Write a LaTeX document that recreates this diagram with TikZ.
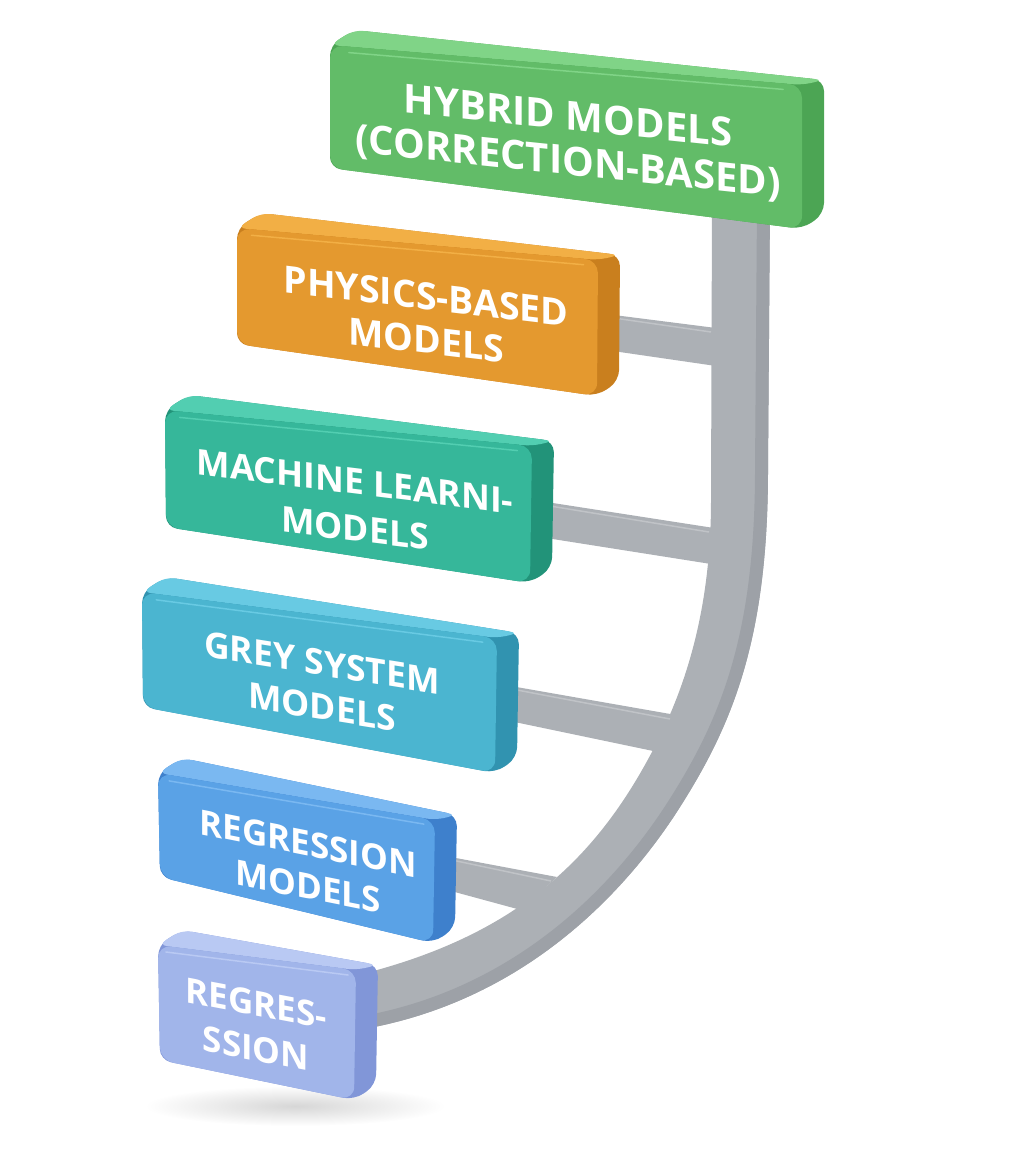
\documentclass[tikz,border=0pt]{standalone}
\usepackage{fontspec}
\newfontfamily\osans{Open Sans}
\usetikzlibrary{calc}
\definecolor{grf}{HTML}{62BC68}\definecolor{grt}{HTML}{80D487}\definecolor{grs}{HTML}{4CA554}
\definecolor{orf}{HTML}{E4992F}\definecolor{ort}{HTML}{F2AF45}\definecolor{ors}{HTML}{C97F1E}
\definecolor{tef}{HTML}{36B79A}\definecolor{tet}{HTML}{52CEB1}\definecolor{tes}{HTML}{229379}
\definecolor{cyf}{HTML}{4BB5D0}\definecolor{cyt}{HTML}{68CAE3}\definecolor{cys}{HTML}{3193B0}
\definecolor{blf}{HTML}{5AA2E6}\definecolor{blt}{HTML}{7AB8F1}\definecolor{bls}{HTML}{3E80CC}
\definecolor{lvf}{HTML}{A1B5EA}\definecolor{lvt}{HTML}{B9C9F3}\definecolor{lvs}{HTML}{8196D8}
\definecolor{barf}{HTML}{ACB0B5}\definecolor{bars}{HTML}{9DA1A7}\definecolor{barh}{HTML}{C0C3C7}
\newcommand{\slab}[6]{%
  \coordinate (#1tl) at #2; \coordinate (#1tr) at #3;
  \coordinate (#1br) at #4; \coordinate (#1bl) at #5;
  \fill[#6s, rounded corners=11pt] (#1bl) -- (#1tl) -- ($(#1tl)+(24,-15)$) -- ($(#1tr)+(22,-5)$) -- ($(#1br)+(22,-15)$) -- (#1br) -- cycle;
  \fill[#6t, rounded corners=9pt] (#1tl) -- ($(#1tl)+(24,-15)$) -- ($(#1tr)+(22,-5)$) -- (#1tr) -- cycle;
  \fill[#6f, rounded corners=13pt] (#1tl) -- (#1tr) -- (#1br) -- (#1bl) -- cycle;
  \draw[#6t, line width=1.5pt, line cap=round] ($(#1tl)!0.04!(#1tr)+(0,6)$) -- ($(#1tl)!0.96!(#1tr)+(0,6)$);
}
\tikzset{
  lbl/.style={text=white, align=center, transform shape, inner sep=0pt},
  branch/.style={fill=barf},
  hl/.style={barh, line width=1.5pt},
}
\begin{document}
\begin{tikzpicture}[x=1pt,y=-1pt]
\useasboundingbox (0,0) rectangle (1024,1167);
% soft shadow under the last box
\shade[inner color=black!16, outer color=white] (295,1106) ellipse [x radius=150, y radius=20];
% main curved bar
\coordinate (bartop) at (741,205);
\coordinate (barend) at (358,1002);
\fill[barf] (770,205) -- (768,470) .. controls (768,640) and (732,725) .. (680,807)
   .. controls (640,870) and (540,1000) .. (358,1030) -- (358,975)
   .. controls (520,935) and (598,855) .. (653,750)
   .. controls (690,680) and (711,600) .. (711,500) -- (712,205) -- cycle;
\begin{scope}
\clip (770,205) -- (768,470) .. controls (768,640) and (732,725) .. (680,807)
   .. controls (640,870) and (540,1000) .. (358,1030) -- (358,975)
   .. controls (520,935) and (598,855) .. (653,750)
   .. controls (690,680) and (711,600) .. (711,500) -- (712,205) -- cycle;
\draw[bars, line width=26pt] (770,205) -- (768,470) .. controls (768,640) and (732,725) .. (680,807)
   .. controls (640,870) and (540,1000) .. (358,1030);
\end{scope}
% branches
\coordinate (b1a) at (606,314); \coordinate (b1b) at (716,328); \coordinate (b1c) at (716,366); \coordinate (b1d) at (606,350);
\fill[branch] (b1a) -- (b1b) -- (b1c) -- (b1d) -- cycle;
\draw[hl] ($(b1a)+(8,4)$) -- ($(b1b)+(-5,4)$);
\coordinate (b2a) at (540,501); \coordinate (b2b) at (714,528); \coordinate (b2c) at (711,564); \coordinate (b2d) at (540,537);
\fill[branch] (b2a) -- (b2b) -- (b2c) -- (b2d) -- cycle;
\draw[hl] ($(b2a)+(10,5)$) -- ($(b2b)+(-5,4)$);
\coordinate (b3a) at (505,685); \coordinate (b3b) at (676,715); \coordinate (b3c) at (658,752); \coordinate (b3d) at (505,720);
\fill[branch] (b3a) -- (b3b) -- (b3c) -- (b3d) -- cycle;
\draw[hl] ($(b3a)+(12,5)$) -- ($(b3b)+(-6,4)$);
\coordinate (b4a) at (440,855); \coordinate (b4b) at (557,877); \coordinate (b4c) at (521,910); \coordinate (b4d) at (440,888);
\fill[branch] (b4a) -- (b4b) -- (b4c) -- (b4d) -- cycle;
\draw[hl] ($(b4a)+(12,5)$) -- ($(b4b)+(-6,4)$);
% boxes
\slab{hy}{(330,45)}{(802,85)}{(802,229)}{(330,168)}{gr}
\node[lbl, yslant=-0.105, font=\osans\bfseries\fontsize{40}{45}\selectfont] (hyt) at (568,141) {HYBRID MODELS\\(CORRECTION-BASED)};
\slab{ph}{(237,228)}{(598,260)}{(597,396)}{(237,344)}{or}
\node[lbl, yslant=-0.12, font=\osans\bfseries\fontsize{37.5}{44}\selectfont] (pht) at (426,318) {PHYSICS-BASED\\MODELS};
\slab{ml}{(165,410)}{(532,446)}{(530,583)}{(166,527)}{te}
\node[lbl, yslant=-0.125, font=\osans\bfseries\fontsize{35.5}{47}\selectfont] (mlt) at (355,505) {MACHINE LEARNI-\\MODELS};
\slab{gs}{(142,592)}{(497,638)}{(495,773)}{(143,707)}{cy}
\node[lbl, yslant=-0.16, font=\osans\bfseries\fontsize{35.5}{44}\selectfont] (gst) at (322,685) {GREY SYSTEM\\MODELS};
\slab{rg}{(158,773)}{(435,820)}{(433,943)}{(160,877)}{bl}
\node[lbl, yslant=-0.2, font=\osans\bfseries\fontsize{35}{43}\selectfont] (rgt) at (308,865) {REGRESSION\\MODELS};
\slab{rs}{(158,945)}{(356,970)}{(354,1100)}{(160,1060)}{lv}
\node[lbl, yslant=-0.19, font=\osans\bfseries\fontsize{35}{45}\selectfont] (rst) at (256,1026) {REGRES-\\SSION};
\end{tikzpicture}
\end{document}
